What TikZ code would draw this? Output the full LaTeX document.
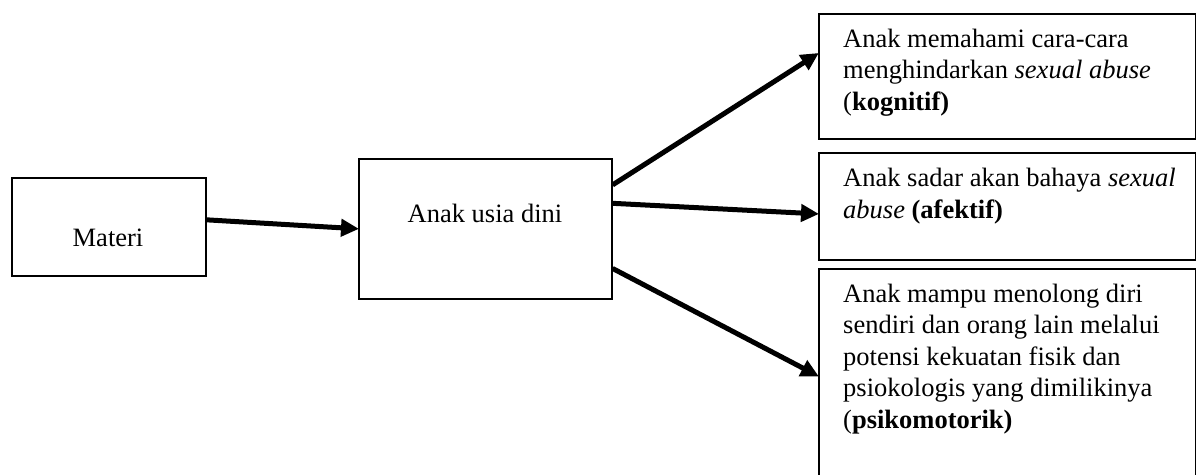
\documentclass[tikz,border=0pt]{standalone}
\usepackage{fontspec}
\setmainfont{Liberation Serif}
\usetikzlibrary{arrows.meta,calc}
\begin{document}
\begin{tikzpicture}[x=1pt,y=-1pt,
  box/.style={draw=black,line width=1.6pt,rectangle,inner sep=0pt},
  txt/.style={inner sep=0pt,align=left,font=\fontsize{26.5}{31.5}\selectfont},
  arr/.style={line width=5pt,-{Triangle[length=18pt,width=17pt]},shorten >=-1pt}]
\useasboundingbox (0,0) rectangle (1196,474);
% boxes
\node[box,minimum width=194pt,minimum height=98pt,anchor=north west] (materi) at (11,177) {};
\node[box,minimum width=253pt,minimum height=140pt,anchor=north west] (anak) at (358,158) {};
\node[box,minimum width=377pt,minimum height=125pt,anchor=north west] (b1) at (818,13) {};
\node[box,minimum width=377pt,minimum height=107pt,anchor=north west] (b2) at (818,152) {};
\node[box,minimum width=377pt,minimum height=240pt,anchor=north west] (b3) at (818,268) {};
% texts (base anchor = baseline of last line)
\node[txt,anchor=base] (tmateri) at (108,246) {Materi};
\node[txt,anchor=base] (tanak) at (485,222) {Anak usia dini};
\node[txt,anchor=base west] (t1) at (843,110) {Anak memahami cara-cara\\menghindarkan \textit{sexual abuse}\\(\textbf{kognitif)}};
\node[txt,anchor=base west] (t2) at (843,218) {Anak sadar akan bahaya \textit{sexual}\\\textit{abuse} \textbf{(afektif)}};
\node[txt,anchor=base west] (t3) at (843,428) {Anak mampu menolong diri\\sendiri dan orang lain melalui\\potensi kekuatan fisik dan\\psiokologis yang dimilikinya\\(\textbf{psikomotorik)}};
% connectors
\draw[arr] ($(materi.north east)!0.43!(materi.south east)$) -- (anak.west);
\draw[arr] ($(anak.north east)!0.19!(anak.south east)$) -- ($(b1.north west)!0.32!(b1.south west)$);
\draw[arr] ($(anak.north east)!0.32!(anak.south east)$) -- ($(b2.north west)!0.57!(b2.south west)$);
\draw[arr] ($(anak.north east)!0.78!(anak.south east)$) -- ($(b3.north west)+(0,108)$);
\end{tikzpicture}
\end{document}
